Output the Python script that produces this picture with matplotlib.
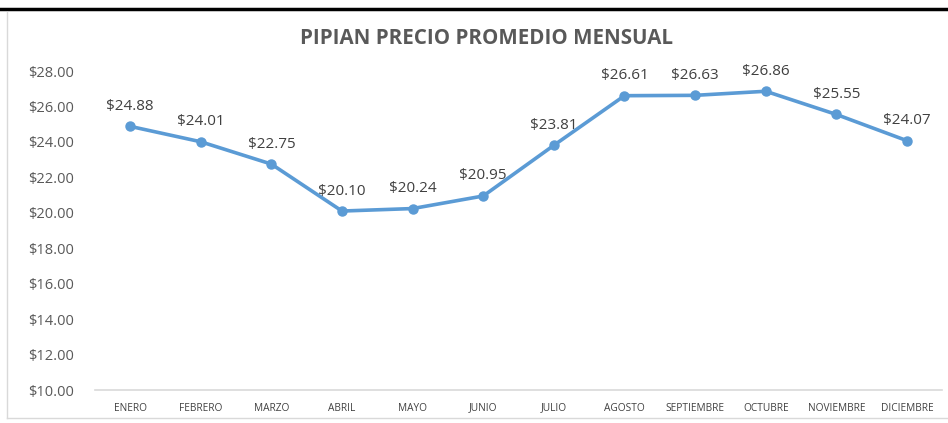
import matplotlib.pyplot as plt
from matplotlib.lines import Line2D

months = ["ENERO", "FEBRERO", "MARZO", "ABRIL", "MAYO", "JUNIO", "JULIO",
          "AGOSTO", "SEPTIEMBRE", "OCTUBRE", "NOVIEMBRE", "DICIEMBRE"]
prices = [24.88, 24.01, 22.75, 20.10, 20.24, 20.95, 23.81,
          26.61, 26.63, 26.86, 25.55, 24.07]
yticks = [10, 12, 14, 16, 18, 20, 22, 24, 26, 28]

plt.rcParams['font.family'] = ['Open Sans', 'DejaVu Sans']

fig = plt.figure(figsize=(9.48, 4.23), dpi=100)
ax = fig.add_axes([0.100, 0.078, 0.894, 0.754])

x = list(range(len(months)))
ax.plot(x, prices, color="#5B9BD5", linewidth=2.6, marker="o", markersize=6.5)

for xi, p in zip(x, prices):
    ax.annotate(f"${p:.2f}", (xi, p), xytext=(0, 9), textcoords="offset points",
                ha="center", va="bottom", fontsize=11, color="#404040")

ax.set_xlim(-0.5, len(months) - 0.5)
ax.set_ylim(10, 28)
ax.set_yticks(yticks)
ax.set_yticklabels([f"${v:.2f}" for v in yticks], fontsize=10.5, color="#595959")
ax.set_xticks(x)
ax.set_xticklabels(months, fontsize=7.3, color="#404040")
ax.tick_params(length=0, pad=9)
ax.tick_params(axis="y", pad=15)

for s in ["top", "right", "left"]:
    ax.spines[s].set_visible(False)
ax.spines["bottom"].set_color("#D9D9D9")
ax.spines["bottom"].set_linewidth(1.2)

fig.text(0.513, 0.908, "PIPIAN PRECIO PROMEDIO MENSUAL", ha="center", va="center",
         fontsize=14.8, fontweight="bold", color="#595959")

# chart frame
fig.add_artist(Line2D([0, 1], [0.978, 0.978], color="black", linewidth=2.5))
fig.add_artist(Line2D([0.0075, 0.0075], [0.012, 0.972], color="#D9D9D9", linewidth=1))
fig.add_artist(Line2D([0.0075, 1], [0.012, 0.012], color="#D9D9D9", linewidth=1))

fig.savefig("out.png", dpi=100)
